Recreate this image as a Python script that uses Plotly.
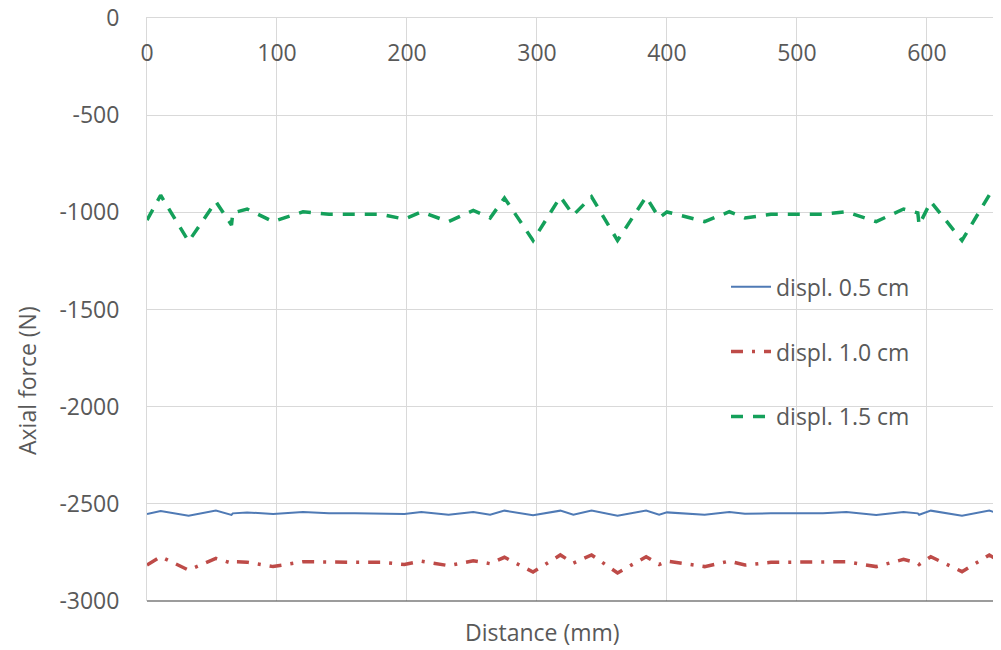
import plotly.graph_objects as go

distance = [0, 10.5, 32, 53, 65, 66, 77, 97, 120, 140, 160, 180, 198, 211, 232, 251, 264, 275,
            297, 318, 328, 342, 362, 384, 394, 400, 429, 448, 460, 480, 500, 520, 538, 561,
            582, 593, 594, 603, 627, 648, 658]

displ_05 = [-2552, -2537, -2561, -2535, -2557, -2549, -2544, -2552, -2542, -2549, -2549, -2549,
            -2552, -2542, -2556, -2542, -2556, -2535, -2559, -2535, -2556, -2535, -2561, -2535,
            -2556, -2544, -2556, -2542, -2551, -2549, -2549, -2549, -2542, -2557, -2542, -2549,
            -2556, -2535, -2561, -2535, -2554]

displ_10 = [-2815, -2772, -2841, -2781, -2805, -2798, -2800, -2823, -2798, -2801, -2801, -2801,
            -2812, -2795, -2818, -2793, -2808, -2775, -2851, -2763, -2805, -2763, -2856, -2772,
            -2812, -2795, -2823, -2795, -2815, -2801, -2801, -2801, -2798, -2823, -2786, -2805,
            -2812, -2772, -2849, -2763, -2805]

displ_15 = [-1040, -912, -1150, -945, -1065, -1003, -983, -1048, -997, -1010, -1010, -1010,
            -1035, -998, -1048, -990, -1029, -926, -1145, -920, -1014, -920, -1145, -920,
            -1029, -998, -1048, -997, -1029, -1010, -1010, -1010, -997, -1048, -983, -1003,
            -1065, -945, -1145, -911, -1003]

series_names = ["displ. 0.5 cm", "displ. 1.0 cm", "displ. 1.5 cm"]
x_ticks = [0, 100, 200, 300, 400, 500, 600]
y_ticks = [0, -500, -1000, -1500, -2000, -2500, -3000]

FONT = "Open Sans"
TXT = "#595959"
GRID = "#d9d9d9"

fig = go.Figure()
fig.add_trace(go.Scatter(x=distance, y=displ_05, mode="lines", name=series_names[0],
                         legendgroup="a",
                         line=dict(color="#4F7AB5", width=2)))
fig.add_trace(go.Scatter(x=distance, y=displ_10, mode="lines", name=series_names[1],
                         legendgroup="b",
                         line=dict(color="#BE4B48", width=3.5, dash="12px,9px,3px,9px")))
fig.add_trace(go.Scatter(x=distance, y=displ_15, mode="lines", name=series_names[2],
                         legendgroup="c",
                         line=dict(color="#14A05A", width=3.5, dash="12px,10px")))

# page body has an 8px margin; size the figure so it fits the window without scrollbars
fig.update_layout(
    width=993, height=642,
    margin=dict(l=139, r=0, t=10, b=49, autoexpand=False),
    plot_bgcolor="white", paper_bgcolor="white",
    font=dict(family=FONT, size=23, color=TXT),
    showlegend=True,
    legend=dict(x=0.678, y=0.576, xanchor="left", yanchor="top",
                bgcolor="rgba(0,0,0,0)", font=dict(size=23, color=TXT),
                tracegroupgap=32, itemwidth=40),
    xaxis=dict(range=[0, 657], side="top", tickvals=x_ticks,
               ticktext=[str(v) for v in x_ticks],
               ticklabelposition="inside", ticklabelstandoff=29,
               ticklabeloverflow="allow", automargin=False,
               showgrid=True, gridcolor=GRID, gridwidth=1, zeroline=False,
               showline=True, linecolor=GRID, linewidth=1, ticks="",
               tickfont=dict(size=23, color=TXT)),
    yaxis=dict(range=[-3000, 0], tickvals=y_ticks,
               ticktext=[str(v) for v in y_ticks],
               ticklabeloverflow="allow", automargin=False,
               showgrid=True, gridcolor=GRID, gridwidth=1, zeroline=False,
               showline=True, linecolor=GRID, linewidth=1, ticks="",
               ticklabelstandoff=22,
               tickfont=dict(size=23, color=TXT)),
    annotations=[
        dict(text="Axial force (N)", xref="paper", yref="paper",
             x=(27 - 147) / 854, y=(601 - 381) / 583, textangle=-90,
             showarrow=False, font=dict(size=23, color=TXT),
             xanchor="center", yanchor="middle"),
        dict(text="Distance (mm)", xref="paper", yref="paper",
             x=(542 - 147) / 854, y=(601 - 632) / 583,
             showarrow=False, font=dict(size=23, color=TXT),
             xanchor="center", yanchor="middle"),
    ],
    shapes=[
        dict(type="line", xref="paper", yref="paper", x0=0, x1=1, y0=0, y1=0,
             line=dict(color="#3a3a3a", width=1.2)),
    ],
)

fig.write_html("out.html")
